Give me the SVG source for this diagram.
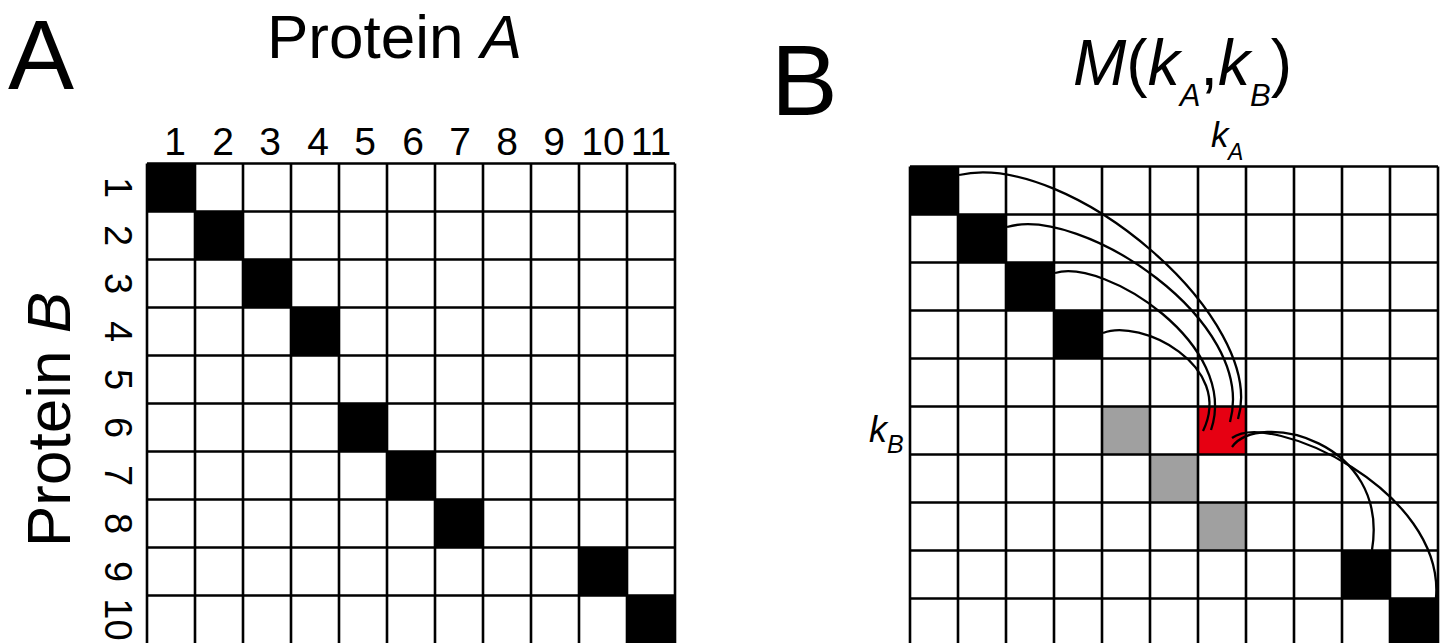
<svg xmlns="http://www.w3.org/2000/svg" width="1445" height="643" viewBox="0 0 1445 643">
<style>
  .t { font-family: "Liberation Sans", Arial, sans-serif; fill: #000; }
  .it { font-style: italic; }
  .grid { stroke: #000; stroke-width: 2.6; fill: none; }
  .blk { fill: #000; }
  .gry { fill: #a0a0a0; }
  .red { fill: #e60012; }
  .arc { stroke: #000; stroke-width: 2.3; fill: none; }
  .num { font-size: 39px; text-anchor: middle; }
</style>
<rect width="1445" height="643" fill="#fff"/>

<!-- Panel A -->
<g id="panelA">
  <text class="t" x="8" y="89" font-size="99">A</text>
  <text class="t" x="267" y="58" font-size="62">Protein <tspan class="it">A</tspan></text>
  <text class="t" font-size="62" transform="translate(70,547) rotate(-90)">Protein <tspan class="it">B</tspan></text>
  <g id="colLabelsA" class="t num">
    <text x="175" y="155">1</text>
    <text x="223" y="155">2</text>
    <text x="270" y="155">3</text>
    <text x="318" y="155">4</text>
    <text x="365" y="155">5</text>
    <text x="413" y="155">6</text>
    <text x="460" y="155">7</text>
    <text x="507" y="155">8</text>
    <text x="554" y="155">9</text>
    <text x="603" y="155">10</text>
    <text x="651" y="155">11</text>
  </g>
  <g id="rowLabelsA" class="t num" style="font-size:38px">
    <text transform="translate(105,187.5) rotate(90)">1</text>
    <text transform="translate(105,235.5) rotate(90)">2</text>
    <text transform="translate(105,283.5) rotate(90)">3</text>
    <text transform="translate(105,331.5) rotate(90)">4</text>
    <text transform="translate(105,379.5) rotate(90)">5</text>
    <text transform="translate(105,427.5) rotate(90)">6</text>
    <text transform="translate(105,475.5) rotate(90)">7</text>
    <text transform="translate(105,523.5) rotate(90)">8</text>
    <text transform="translate(105,571.5) rotate(90)">9</text>
    <text transform="translate(105,619.5) rotate(90)">10</text>
  </g>
  <g id="cellsA" class="blk">
    <g id="a-1-1"><rect x="147" y="163.5" width="48" height="48"/></g>
    <g id="a-2-2"><rect x="195" y="211.5" width="48" height="48"/></g>
    <g id="a-3-3"><rect x="243" y="259.5" width="48" height="48"/></g>
    <g id="a-4-4"><rect x="291" y="307.5" width="48" height="48"/></g>
    <g id="a-6-5"><rect x="339" y="403.5" width="48" height="48"/></g>
    <g id="a-7-6"><rect x="387" y="451.5" width="48" height="48"/></g>
    <g id="a-8-7"><rect x="435" y="499.5" width="48" height="48"/></g>
    <g id="a-9-10"><rect x="579" y="547.5" width="48" height="48"/></g>
    <g id="a-10-11"><rect x="627" y="595.5" width="48" height="48"/></g>
  </g>
  <path id="gridA" class="grid" d="
    M147,163.5V646 M195,163.5V646 M243,163.5V646 M291,163.5V646 M339,163.5V646 M387,163.5V646
    M435,163.5V646 M483,163.5V646 M531,163.5V646 M579,163.5V646 M627,163.5V646 M675,163.5V646
    M147,163.5H675 M147,211.5H675 M147,259.5H675 M147,307.5H675 M147,355.5H675
    M147,403.5H675 M147,451.5H675 M147,499.5H675 M147,547.5H675 M147,595.5H675"/>
</g>

<!-- Panel B -->
<g id="panelB">
  <text class="t" x="771" y="115" font-size="100">B</text>
  <text class="t" x="1073" y="85" font-size="64"><tspan class="it">M</tspan>(<tspan class="it">k</tspan><tspan class="it" font-size="31" dy="21">A</tspan><tspan dy="-21">,</tspan><tspan class="it">k</tspan><tspan class="it" font-size="31" dy="21">B</tspan><tspan dy="-21">)</tspan></text>
  <text class="t it" x="1211" y="147" font-size="35">k</text>
  <text class="t it" x="1228" y="160" font-size="23">A</text>
  <text class="t it" x="869" y="442" font-size="36">k</text>
  <text class="t it" x="887" y="453" font-size="25">B</text>

  <g id="cellsB">
    <g id="b-1-1"><rect class="blk" x="910" y="166.5" width="48" height="48"/></g>
    <g id="b-2-2"><rect class="blk" x="958" y="214.5" width="48" height="48"/></g>
    <g id="b-3-3"><rect class="blk" x="1006" y="262.5" width="48" height="48"/></g>
    <g id="b-4-4"><rect class="blk" x="1054" y="310.5" width="48" height="48"/></g>
    <g id="b-6-5"><rect class="gry" x="1102" y="406.5" width="48" height="48"/></g>
    <g id="b-7-6"><rect class="gry" x="1150" y="454.5" width="48" height="48"/></g>
    <g id="b-8-7"><rect class="gry" x="1198" y="502.5" width="48" height="48"/></g>
    <g id="b-6-7"><rect class="red" x="1198" y="406.5" width="48" height="48"/></g>
    <g id="b-9-10"><rect class="blk" x="1342" y="550.5" width="48" height="48"/></g>
    <g id="b-10-11"><rect class="blk" x="1390" y="598.5" width="48" height="48"/></g>
  </g>
  <path id="gridB" class="grid" d="
    M910,166.5V646 M958,166.5V646 M1006,166.5V646 M1054,166.5V646 M1102,166.5V646 M1150,166.5V646
    M1198,166.5V646 M1246,166.5V646 M1294,166.5V646 M1342,166.5V646 M1390,166.5V646 M1438,166.5V646
    M910,166.5H1438 M910,214.5H1438 M910,262.5H1438 M910,310.5H1438 M910,358.5H1438
    M910,406.5H1438 M910,454.5H1438 M910,502.5H1438 M910,550.5H1438 M910,598.5H1438"/>

  <g id="connectors">
    <path class="arc" d="M959,175 C1070,150 1268,320 1238,419"/>
    <path class="arc" d="M1007,227 C1080,205 1258,320 1230,422"/>
    <path class="arc" d="M1055,273 C1105,258 1240,345 1211,430"/>
    <path class="arc" d="M1103,333 C1140,318 1235,365 1203,431"/>
    <path class="arc" d="M1232,447 C1258,410 1390,440 1372,550"/>
    <path class="arc" d="M1232,438 C1270,410 1445,490 1436,598"/>
  </g>
</g>
</svg>
